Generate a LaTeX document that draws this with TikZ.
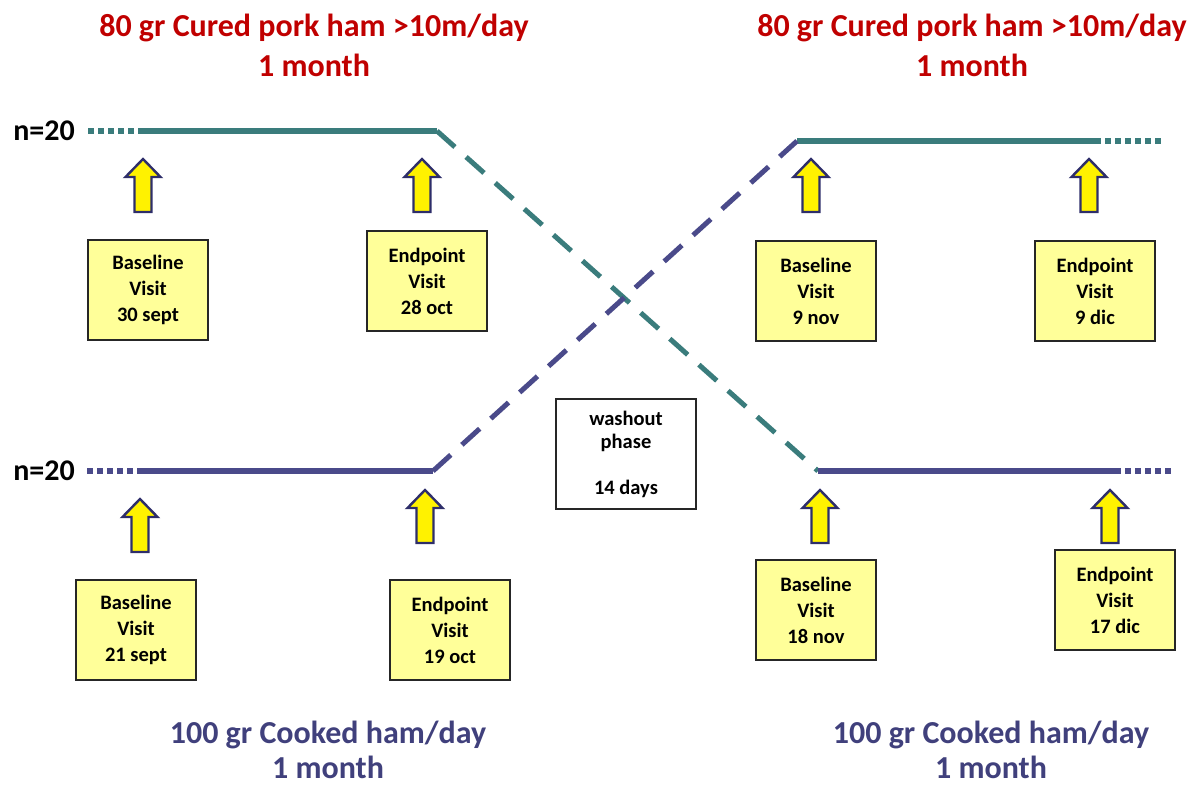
\documentclass[tikz,border=0pt]{standalone}
\usepackage{fontspec}
\setmainfont{Carlito}
\definecolor{tealln}{RGB}{58,124,124}
\definecolor{navyln}{RGB}{74,74,138}
\definecolor{redtxt}{RGB}{192,0,0}
\definecolor{bluetxt}{RGB}{64,64,124}
\definecolor{boxyel}{RGB}{255,255,153}
\definecolor{arrowln}{RGB}{46,46,106}
\newcommand\yarrow[2]{%
  \draw[yarrowst] (#1,#2) -- ++(17.5,18) -- ++(-9,0) -- ++(0,35) -- ++(-17,0) -- ++(0,-35) -- ++(-9,0) -- cycle;}
\begin{document}
\begin{tikzpicture}[x=1pt,y=-1pt,
  visitbox/.style={draw=black!85, line width=1.3pt, fill=boxyel, minimum width=120pt, minimum height=100pt,
    font=\bfseries\fontsize{20.5}{26}\selectfont, align=center, inner sep=0pt},
  washbox/.style={draw=black!85, line width=1.3pt, fill=white, minimum width=140pt, minimum height=110pt,
    font=\bfseries\fontsize{20.5}{23}\selectfont, align=center, inner sep=0pt},
  yarrowst/.style={draw=arrowln, line width=2.4pt, fill=yellow, line join=miter},
  titlered/.style={text=redtxt, font=\bfseries\fontsize{32}{40}\selectfont, align=center, inner sep=0pt},
  titleblue/.style={text=bluetxt, font=\bfseries\fontsize{32}{35}\selectfont, align=center, inner sep=0pt},
  ntxt/.style={font=\bfseries\fontsize{30}{36}\selectfont, anchor=east, inner sep=0pt},
  solidln/.style={line width=6pt},
  dotln/.style={line width=6pt, dash pattern=on 6pt off 4pt},
  dashln/.style={line width=5pt, dash pattern=on 24pt off 15pt},
]
\useasboundingbox (0,0) rectangle (1187,787);

% titles
\node[titlered] (t1) at (314,45) {80 gr Cured pork ham >10m/day\\1 month};
\node[titlered] (t2) at (972,45) {80 gr Cured pork ham >10m/day\\1 month};
\node[titleblue] (t3) at (328,750) {100 gr Cooked ham/day\\1 month};
\node[titleblue] (t4) at (991,750) {100 gr Cooked ham/day\\1 month};

% n labels
\node[ntxt] (n1) at (75,131) {n=20};
\node[ntxt] (n2) at (75,471) {n=20};

% line coordinates
\coordinate (tlA) at (88,131);
\coordinate (tlB) at (138,131);
\coordinate (tlC) at (437,131);
\coordinate (brA) at (818,471);
\coordinate (brB) at (1115,471);
\coordinate (brC) at (1172,471);
\coordinate (blA) at (87,471);
\coordinate (blB) at (137,471);
\coordinate (blC) at (433,471);
\coordinate (trA) at (797,141);
\coordinate (trB) at (1095,141);
\coordinate (trC) at (1162,141);

% teal group
\draw[tealln, dotln] (tlA) -- (tlB);
\draw[tealln, solidln] (tlB) -- (tlC);
\draw[tealln, dashln] (tlC) -- (brA);
\draw[tealln, solidln] (trA) -- (trB);
\draw[tealln, dotln] (trB) -- (trC);

% navy group
\draw[navyln, dotln] (blA) -- (blB);
\draw[navyln, solidln] (blB) -- (blC);
\draw[navyln, dashln] (blC) -- (trA);
\draw[navyln, solidln] (brA) -- (brB);
\draw[navyln, dotln] (brB) -- (brC);

% arrows
\yarrow{143}{159}
\yarrow{422}{159}
\yarrow{811}{159}
\yarrow{1089}{159}
\yarrow{140}{499}
\yarrow{425}{490}
\yarrow{820}{490}
\yarrow{1110}{490}

% boxes
\node[visitbox] (b1) at (148,290) {Baseline\\Visit\\30 sept};
\node[visitbox] (b2) at (427,281) {Endpoint\\Visit\\28 oct};
\node[visitbox] (b3) at (816,291) {Baseline\\Visit\\9 nov};
\node[visitbox] (b4) at (1095,291) {Endpoint\\Visit\\9 dic};
\node[visitbox] (b5) at (136,630) {Baseline\\Visit\\21 sept};
\node[visitbox] (b6) at (450,630) {Endpoint\\Visit\\19 oct};
\node[visitbox] (b7) at (816,610) {Baseline\\Visit\\18 nov};
\node[visitbox] (b8) at (1115,600) {Endpoint\\Visit\\17 dic};

\node[washbox] (w) at (626,454) {washout\\phase\\[23pt]14 days};
\end{tikzpicture}
\end{document}
